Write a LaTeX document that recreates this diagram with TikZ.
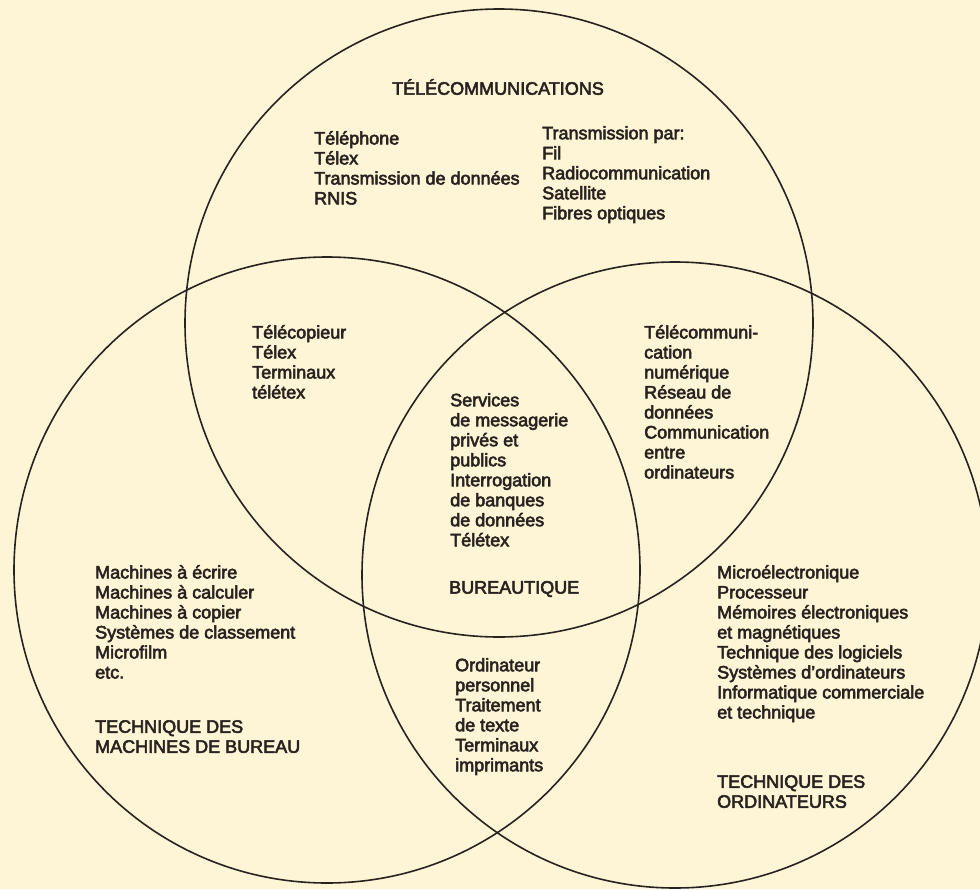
\documentclass[tikz,border=0pt]{standalone}
\usepackage{fontspec}
\usepackage{tikz}
\usepackage{xcolor}
\newfontfamily\inkfont{Liberation Sans}[FakeBold=3]
\definecolor{paper}{RGB}{254,245,214}
\definecolor{ink}{RGB}{40,35,32}
\tikzstyle{ring} = [draw=ink, line width=1.6pt]
\tikzstyle{block} = [anchor=north west, align=left, inner sep=0pt, text=ink, font=\inkfont\fontsize{18}{20}\selectfont]
\tikzstyle{title} = [block, anchor=center]

\begin{document}
\begin{tikzpicture}[x=1pt, y=-1pt]
		\useasboundingbox (0,0) rectangle (980,889);
		\fill [paper] (0,0) rectangle (980,889);
		\coordinate (ctele) at (499,323);
		\coordinate (cmach) at (327,570);
		\coordinate (cordi) at (675,575);
		\draw [ring] (ctele) circle (314pt);
		\draw [ring] (cmach) circle (313pt);
		\draw [ring] (cordi) circle (313pt);
		
		\node (telecom) [title] at (498,87) {TÉLÉCOMMUNICATIONS};
		\node (phone) [block] at (314,131) {Téléphone\\Télex\\Transmission de données\\RNIS};
		\node (trans) [block] at (542,126) {Transmission par:\\Fil\\Radiocommunication\\Satellite\\Fibres optiques};
		\node (fax) [block] at (252,325) {Télécopieur\\Télex\\Terminaux\\télétex};
		\node (reseau) [block] at (644,325) {Télécommuni-\\cation\\numérique\\Réseau de\\données\\Communication\\entre\\ordinateurs};
		\node (msg) [block] at (450,393) {Services\\de messagerie\\privés et\\publics\\Interrogation\\de banques\\de données\\Télétex};
		\node (bureau) [block, anchor=west] at (449,589) {BUREAUTIQUE};
		\node (mach) [block] at (95,565) {Machines à écrire\\Machines à calculer\\Machines à copier\\Systèmes de classement\\Microfilm\\etc.};
		\node (machtitle) [block] at (95,720) {TECHNIQUE DES\\MACHINES DE BUREAU};
		\node (pc) [block] at (455,658) {Ordinateur\\personnel\\Traitement\\de texte\\Terminaux\\imprimants};
		\node (micro) [block] at (717,565) {Microélectronique\\Processeur\\Mémoires électroniques\\et magnétiques\\Technique des logiciels\\Systèmes d’ordinateurs\\Informatique commerciale\\et technique};
		\node (orditle) [block] at (717,775) {TECHNIQUE DES\\ORDINATEURS};
	\end{tikzpicture}
\end{document}
